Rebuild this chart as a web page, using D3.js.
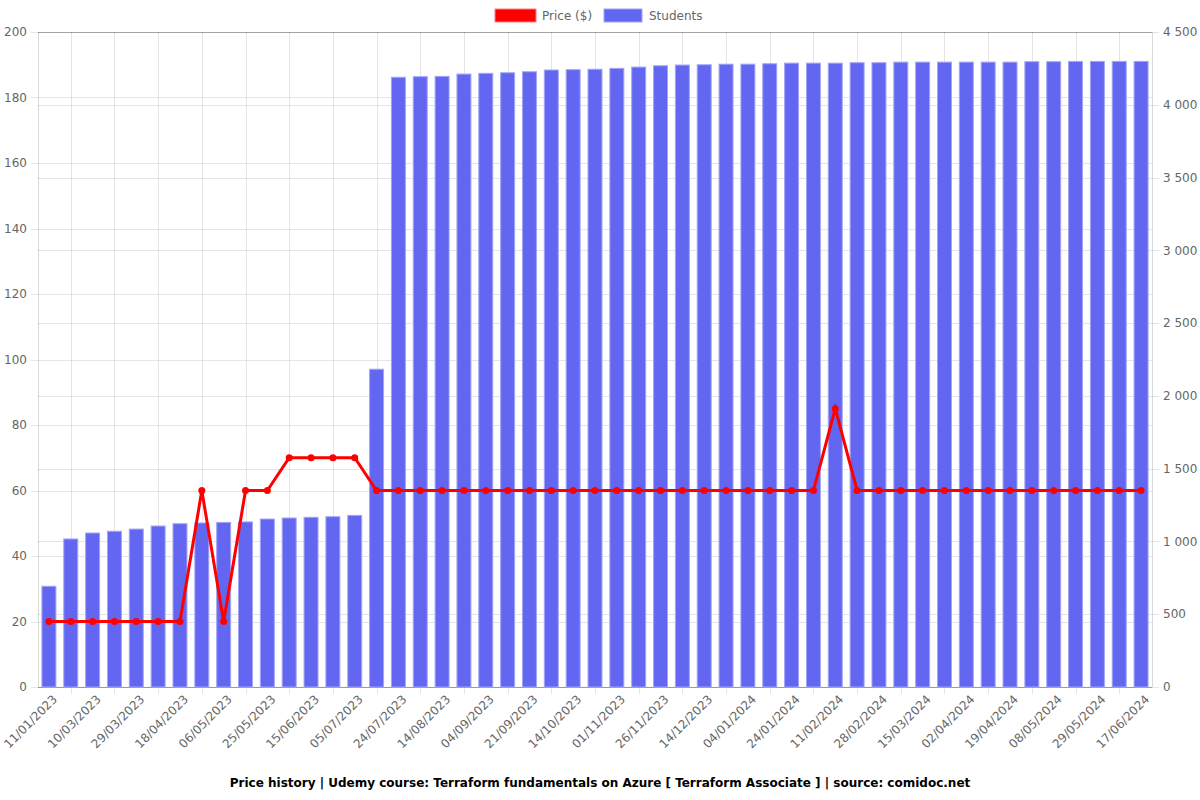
<!DOCTYPE html>
<html><head><meta charset="utf-8">
<script src="https://cdn.jsdelivr.net/npm/d3@7"></script>
<style>body{margin:0;background:#fff}svg{display:block;font-family:"DejaVu Sans",sans-serif}</style>
</head><body>
<svg id="c" width="1200" height="800"></svg>
<script>
const tickLabels = ["11/01/2023","10/03/2023","29/03/2023","18/04/2023","06/05/2023","25/05/2023","15/06/2023","05/07/2023","24/07/2023","14/08/2023","04/09/2023","21/09/2023","14/10/2023","01/11/2023","26/11/2023","14/12/2023","04/01/2024","24/01/2024","11/02/2024","28/02/2024","15/03/2024","02/04/2024","19/04/2024","08/05/2024","29/05/2024","17/06/2024"];
const prices = [20,20,20,20,20,20,20,60,20,60,60,70,70,70,70,60,60,60,60,60,60,60,60,60,60,60,60,60,60,60,60,60,60,60,60,60,85,60,60,60,60,60,60,60,60,60,60,60,60,60,60];
const students = [692,1017,1058,1070,1085,1106,1122,1127,1131,1134,1154,1161,1166,1170,1179,2183,4189,4193,4195,4211,4216,4220,4227,4239,4241,4244,4250,4259,4268,4273,4275,4279,4279,4282,4286,4286,4286,4289,4289,4293,4293,4293,4293,4293,4293,4296,4296,4298,4298,4298,4298];
const leftTicks = [0,20,40,60,80,100,120,140,160,180,200];
const rightTicks = [0,500,1000,1500,2000,2500,3000,3500,4000,4500];
const title = "Price history | Udemy course: Terraform fundamentals on Azure [ Terraform Associate ] | source: comidoc.net";

const svg = d3.select("#c");
const L = 38, R = 1152, T = 32, B = 687;
const idx = d3.range(students.length);
const x = d3.scaleBand().domain(idx).range([L, R]).paddingInner(0.36).paddingOuter(0.18);
const cx = i => x(i) + x.bandwidth() / 2;
const yL = d3.scaleLinear().domain([0, 200]).range([B, T]);
const yR = d3.scaleLinear().domain([0, 4500]).range([B, T]);
const grid = "rgba(0,0,0,0.1)";
const txt = "#666";

// horizontal grids
svg.append("g").selectAll("line").data(leftTicks).join("line")
  .attr("x1", L - 7).attr("x2", R).attr("y1", d => Math.round(yL(d)) + 0.5).attr("y2", d => Math.round(yL(d)) + 0.5)
  .attr("stroke", grid);
svg.append("g").selectAll("line").data(rightTicks).join("line")
  .attr("x1", L).attr("x2", R + 7).attr("y1", d => Math.round(yR(d)) + 0.5).attr("y2", d => Math.round(yR(d)) + 0.5)
  .attr("stroke", grid);
// vertical grids at odd indices
const oddIdx = idx.filter(i => i % 2 === 1);
svg.append("g").selectAll("line").data(oddIdx).join("line")
  .attr("x1", d => Math.round(cx(d)) + 0.5).attr("x2", d => Math.round(cx(d)) + 0.5)
  .attr("y1", T).attr("y2", B + 7).attr("stroke", grid);
// borders
svg.append("line").attr("x1", L + 0.5).attr("x2", L + 0.5).attr("y1", T).attr("y2", B).attr("stroke", "rgba(0,0,0,0.15)");
svg.append("line").attr("x1", R + 0.5).attr("x2", R + 0.5).attr("y1", T).attr("y2", B).attr("stroke", "rgba(0,0,0,0.15)");
svg.append("line").attr("x1", L).attr("x2", R).attr("y1", B + 0.5).attr("y2", B + 0.5).attr("stroke", "rgba(0,0,0,0.25)");
svg.append("line").attr("x1", L).attr("x2", R).attr("y1", T + 0.5).attr("y2", T + 0.5).attr("stroke", "rgba(0,0,0,0.2)");

// axis labels
svg.append("g").selectAll("text").data(leftTicks).join("text")
  .attr("x", 27).attr("y", d => yL(d)).attr("dy", "0.35em").attr("text-anchor", "end")
  .attr("font-size", 12).attr("fill", txt).text(d => d);
const fmt = d => d3.format(",")(d).replace(/,/g, " ");
svg.append("g").selectAll("text").data(rightTicks).join("text")
  .attr("x", 1163).attr("y", d => yR(d)).attr("dy", "0.35em").attr("text-anchor", "start")
  .attr("font-size", 12).attr("fill", txt).text(fmt);
svg.append("g").selectAll("text").data(tickLabels).join("text")
  .attr("transform", (d, k) => `translate(${cx(k * 2) + 6},${B + 10}) rotate(-45)`)
  .attr("text-anchor", "end").attr("dy", "0.35em")
  .attr("font-size", 12).attr("fill", txt).text(d => d);

// bars
svg.append("g").selectAll("rect").data(students).join("rect")
  .attr("x", (d, i) => x(i)).attr("width", x.bandwidth())
  .attr("y", d => yR(d)).attr("height", d => B - yR(d))
  .attr("fill", "#6366f1").attr("stroke", "#a3a5f7").attr("stroke-width", 1);

// line
const line = d3.line().x((d, i) => cx(i)).y(d => yL(d));
svg.append("path").datum(prices).attr("d", line).attr("fill", "none")
  .attr("stroke", "#ff0000").attr("stroke-width", 3).attr("stroke-linejoin", "miter");
svg.append("g").selectAll("circle").data(prices).join("circle")
  .attr("cx", (d, i) => cx(i)).attr("cy", d => yL(d)).attr("r", 3.5).attr("fill", "#ff0000");

// legend
svg.append("rect").attr("x", 495).attr("y", 9).attr("width", 41).attr("height", 13).attr("fill", "#ff0000").attr("stroke", "#ff8080");
svg.append("text").attr("x", 542).attr("y", 16).attr("dy", "0.35em").attr("font-size", 12).attr("fill", txt).text("Price ($)");
svg.append("rect").attr("x", 604).attr("y", 9).attr("width", 38).attr("height", 13).attr("fill", "#6366f1").attr("stroke", "#a3a5f7");
svg.append("text").attr("x", 649).attr("y", 16).attr("dy", "0.35em").attr("font-size", 12).attr("fill", txt).text("Students");

// title
svg.append("text").attr("x", 600).attr("y", 783).attr("dy", "0.35em").attr("text-anchor", "middle")
  .attr("font-size", 12).attr("font-weight", "bold").attr("fill", "#000").text(title);
</script>
</body></html>
